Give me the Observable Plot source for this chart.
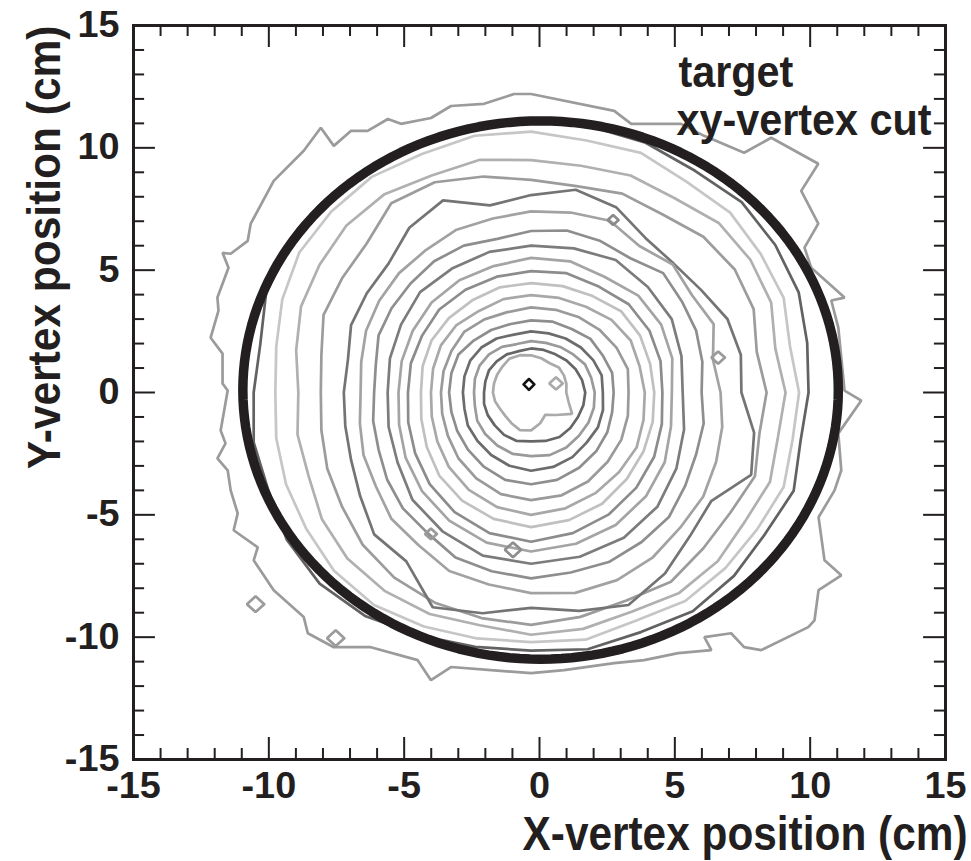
<!DOCTYPE html>
<html><head><meta charset="utf-8">
<script src="https://cdn.jsdelivr.net/npm/d3@7"></script>
<script src="https://cdn.jsdelivr.net/npm/@observablehq/plot@0.6"></script>
<style>
html,body{margin:0;padding:0;background:#fff;}
#chart svg{display:block;}
</style>
</head><body><div id="chart"></div>
<script>
// ---- data ----
// outermost contour, traced vertex by vertex (cm)
const ring01X = [-0.31,-0.94,-2.05,-3.27,-4.01,-5.12,-5.60,-6.35,-6.97,-7.60,-8.08,-8.71,-9.82,-10.67,-10.78,-11.41,-11.71,-11.49,-11.90,-11.86,-12.15,-11.71,-11.71,-11.52,-11.78,-11.60,-11.90,-11.52,-11.41,-11.15,-11.30,-10.41,-10.56,-9.82,-8.71,-8.56,-7.60,-6.23,-4.50,-4.01,-3.27,-1.79,-0.31,0.91,2.76,3.87,5.12,6.35,6.09,7.08,7.56,8.19,9.93,10.16,10.31,11.15,10.53,10.31,10.90,11.15,11.04,11.89,11.27,11.04,10.78,11.27,10.04,9.79,10.30,9.67,10.30,8.56,7.56,6.08,5.23,3.39,2.76,-0.31];
const ring01Y = [12.20,12.20,11.80,11.71,11.22,10.98,11.18,10.69,10.69,10.08,10.82,9.88,8.65,6.90,6.20,5.67,5.71,5.10,3.88,3.35,2.24,1.59,0.37,0.08,-1.55,-2.08,-2.69,-3.18,-4.00,-4.94,-5.63,-6.33,-6.86,-8.08,-9.18,-9.84,-10.41,-10.41,-10.94,-11.76,-11.22,-11.35,-11.47,-11.35,-11.06,-10.94,-10.65,-10.53,-10.00,-9.84,-10.41,-10.53,-9.59,-9.31,-8.08,-7.47,-6.86,-5.10,-4.00,-3.18,-1.67,-0.33,0.08,2.65,3.76,3.88,5.10,5.92,6.90,8.24,9.35,10.41,9.80,10.49,10.98,10.98,11.51,12.20];
// inner contours: radii (cm) around a common centre, counter-clockwise from +x, equal angle steps
const ringCenter = [-0.31, 0.0];
const ring02 = [10.25,10.4,10.7,10.85,11.0,10.9,11.05,11.1,11.15,11.0,11.05,10.9,10.95,10.75,10.6,10.2,10.25,10.45,10.5,10.85,11.05,11.0,10.75,10.6,10.55,10.7,10.6,10.75,10.6,10.4,10.5,10.15];
const ring03 = [9.9,9.75,10.1,10.2,10.4,10.35,10.6,10.5,10.66,10.7,10.55,10.6,10.45,10.3,9.95,9.6,9.45,9.6,9.8,10.0,10.3,10.45,10.35,10.25,10.2,10.3,10.1,10.25,10.15,10.05,10.1,9.85];
const ring04 = [9.4,9.2,9.6,9.75,9.8,9.55,9.6,9.45,9.5,9.7,9.6,9.75,9.65,9.4,9.2,8.85,8.6,8.8,8.9,9.3,9.6,9.75,9.8,9.7,9.9,9.85,9.7,9.85,9.75,9.5,9.55,9.3];
const ring05 = [8.7,8.5,8.9,9.05,9.0,8.75,8.8,8.6,8.69,9.0,9.3,9.3,8.6,8.4,8.3,7.9,7.77,7.9,8.15,8.4,8.8,9.1,9.3,9.4,9.5,9.35,9.2,9.3,9.0,8.85,8.95,8.6];
const ring06 = [7.77,7.9,7.85,7.55,7.45,7.6,8.2,8.45,8.07,7.8,8.5,8.1,7.45,7.3,7.2,6.9,6.92,7.0,7.2,7.6,8.2,8.3,9.5,9.2,8.8,9.1,9.4,8.9,8.3,8.0,8.8,8.4];
const ring07 = [7.0,6.85,7.3,7.15,7.4,7.2,7.6,7.5,7.4,7.25,7.2,7.0,6.9,6.75,6.6,6.4,6.3,6.45,6.7,6.9,7.3,7.5,7.9,8.0,8.2,8.35,8.3,8.1,7.8,7.65,7.4,7.2];
const ring08 = [6.3,6.45,6.6,6.7,6.9,6.6,6.7,6.75,6.6,6.4,6.5,6.45,6.3,6.2,6.1,5.85,5.8,5.95,6.1,6.4,6.7,6.9,7.3,7.45,7.6,7.5,7.5,7.35,7.2,6.85,6.6,6.5];
const ring09 = [5.6,5.75,6.0,6.1,6.25,6.1,6.0,5.95,5.85,5.8,5.55,5.4,5.3,5.45,5.7,6.2,6.55,6.9,7.0,6.95,6.85,6.6,6.2,5.85];
const ring10 = [5.2,5.4,5.55,5.6,5.45,5.55,5.5,5.35,5.3,5.2,5.05,4.95,4.9,5.05,5.35,5.7,6.05,6.35,6.5,6.4,6.25,6.0,5.7,5.35];
const ring11 = [4.85,4.95,5.05,5.1,5.0,5.05,4.96,4.9,4.85,4.8,4.65,4.6,4.55,4.7,4.95,5.3,5.65,5.95,6.1,5.95,5.75,5.5,5.25,5.0];
const ring12 = [4.55,4.55,4.65,4.7,4.55,4.5,4.47,4.45,4.35,4.3,4.25,4.15,4.07,4.2,4.45,4.8,5.1,5.35,5.5,5.4,5.25,5.0,4.8,4.65];
const ring13 = [4.2,4.15,4.25,4.2,4.05,4.0,3.98,3.95,3.85,3.9,3.85,3.75,3.7,3.8,4.0,4.3,4.6,4.85,5.0,4.9,4.75,4.6,4.5,4.3];
const ring14 = [3.6,3.7,3.65,3.6,3.55,3.5,3.48,3.4,3.45,3.5,3.4,3.35,3.33,3.4,3.55,3.8,4.05,4.3,4.4,4.35,4.2,4.0,3.85,3.7];
const ring15 = [3.05,3.1,3.05,3.1,3.0,3.0,2.95,2.9,2.95,3.0,3.1,3.05,3.03,3.05,3.15,3.3,3.5,3.7,3.75,3.7,3.55,3.4,3.25,3.1];
const ring16 = [2.65,2.7,2.65,2.6,2.55,2.5,2.5,2.45,2.55,2.6,2.6,2.55,2.52,2.55,2.7,2.8,2.95,3.1,3.2,3.15,3.05,2.9,2.85,2.75];
const ring17 = [2.35,2.3,2.3,2.2,2.15,2.1,2.1,2.05,2.15,2.2,2.2,2.15,2.11,2.15,2.3,2.4,2.5,2.6,2.6,2.65,2.6,2.5,2.45,2.4];
const ring18 = [2.0,1.95,1.9,1.85,1.8,1.8,1.8,1.75,1.8,1.8,1.8,1.75,1.74,1.8,1.85,1.9,2.0,2.05,2.0,2.05,2.1,2.05,2.0,2.0];
const ring19 = [1.3,1.35,1.4,1.45,1.38,1.45,1.52,1.58,1.6,1.5,1.45,1.42,1.41,1.38,1.33,1.35,1.45,1.59,1.55,1.3,1.05,1.3,1.75,1.43];
const ringColors = ["#9b9b9b","#626262","#c6c6c6","#b0b0b0","#9c9c9c","#747474","#a2a2a2","#8e8e8e","#7c7c7c","#a4a4a4","#8c8c8c","#c0c0c0","#a8a8a8","#9a9a9a","#8e8e8e","#6c6c6c","#9a9a9a","#666666","#aaaaaa"];
// small isolated contour islands: centre x, centre y (cm), half size (cm), colour
const islandX = [-10.49, -7.53, 2.72, 6.6, -4.01, -0.98, 0.61];
const islandY = [-8.65, -10.04, 7.05, 1.43, -5.78, -6.43, 0.37];
const islandSize = [0.32, 0.32, 0.2, 0.25, 0.22, 0.3, 0.25];
const islandColor = ["#9b9b9b", "#9b9b9b", "#8a8a8a", "#9a9a9a", "#9a9a9a", "#8e8e8e", "#aaaaaa"];
// peak bin marker (black diamond)
const peakX = [-0.39];
const peakY = [0.33];
// xy-vertex cut circle
const cutCenterX = 0.04, cutCenterY = 0.1, cutRadius = 11.0;
// axes and texts
const xTickLabels = [-15, -10, -5, 0, 5, 10, 15];
const yTickLabels = [-15, -10, -5, 0, 5, 10, 15];
const xTitle = "X-vertex position (cm)";
const yTitle = "Y-vertex position (cm)";
const legendLines = ["target", "xy-vertex cut"];

// ---- build mark tables ----
const contourRows = [];
ring01X.forEach((x, i) => contourRows.push({ring: "r0", x, y: ring01Y[i], c: ringColors[0]}));
const rings = [ring02, ring03, ring04, ring05, ring06, ring07, ring08, ring09, ring10,
               ring11, ring12, ring13, ring14, ring15, ring16, ring17, ring18, ring19];
rings.forEach((radii, j) => {
  const k = j + 1, n = radii.length;
  for (let i = 0; i <= n; i++) {
    const a = 2 * Math.PI * (i % n) / n, r = radii[i % n];
    contourRows.push({ring: "r" + k, x: ringCenter[0] + r * Math.cos(a), y: ringCenter[1] + r * Math.sin(a), c: ringColors[k]});
  }
});
islandX.forEach((cx, k) => {
  const s = islandSize[k];
  [[s,0],[0,s],[-s,0],[0,-s],[s,0]].forEach(([dx, dy]) =>
    contourRows.push({ring: "i" + k, x: cx + dx, y: islandY[k] + dy, c: islandColor[k]}));
});
const peakRows = [];
[[0.2,0],[0,0.22],[-0.2,0],[0,-0.22],[0.2,0]].forEach(([dx, dy]) =>
  peakRows.push({x: peakX[0] + dx, y: peakY[0] + dy}));
const cutRows = d3.range(0, 361, 2).map(deg => ({
  x: cutCenterX + cutRadius * Math.cos(deg * Math.PI / 180),
  y: cutCenterY + cutRadius * Math.sin(deg * Math.PI / 180)
}));
const minor = d3.range(-15, 16);
const isMajor = v => v % 5 === 0;
const tx = v => (isMajor(v) ? 0.81 : 0.41);   // tick length along x (cm)
const ty = v => (isMajor(v) ? 0.9 : 0.45);    // tick length along y (cm)

const font = "Liberation Sans, Arial, Helvetica, sans-serif";
const ink = "#231f20";

const plot = Plot.plot({
  width: 971,
  height: 861,
  marginLeft: 133,
  marginRight: 26,
  marginTop: 25,
  marginBottom: 102,
  x: {domain: [-15, 15], axis: null},
  y: {domain: [-15, 15], axis: null},
  style: {background: "#fff", fontFamily: font},
  marks: [
    Plot.line(contourRows, {x: "x", y: "y", z: "ring", stroke: "c", strokeWidth: 2.7, strokeLinejoin: "miter", curve: "linear"}),
    Plot.line(cutRows, {x: "x", y: "y", stroke: ink, strokeWidth: 9.5}),
    Plot.line(peakRows, {x: "x", y: "y", stroke: "#111", strokeWidth: 2.6}),
    Plot.frame({stroke: ink, strokeWidth: 3}),
    Plot.ruleX(minor, {x: d => d, y1: -15, y2: d => -15 + ty(d), stroke: ink, strokeWidth: 2}),
    Plot.ruleX(minor, {x: d => d, y1: 15, y2: d => 15 - ty(d), stroke: ink, strokeWidth: 2}),
    Plot.ruleY(minor, {y: d => d, x1: -15, x2: d => -15 + tx(d), stroke: ink, strokeWidth: 2}),
    Plot.ruleY(minor, {y: d => d, x1: 15, x2: d => 15 - tx(d), stroke: ink, strokeWidth: 2}),
    Plot.text(xTickLabels, {x: d => d, y: -15, dy: 27, text: d => String(d), fontSize: 36, fontWeight: "bold", fill: ink}),
    Plot.text(yTickLabels, {x: -15, y: d => d, dx: -14, text: d => String(d), textAnchor: "end", fontSize: 36, fontWeight: "bold", fill: ink}),
    Plot.text([xTitle], {x: 15, y: -15, dx: 22, dy: 75, text: d => d, textAnchor: "end", fontSize: 49, fontWeight: "bold", fill: ink}),
    Plot.text([yTitle], {x: -15, y: 15, dx: -88, text: d => d, textAnchor: "end", rotate: -90, fontSize: 42.5, fontWeight: "bold", fill: ink}),
    Plot.text([legendLines[0]], {x: 15, y: 15, dx: -267, dy: 47, text: d => d, textAnchor: "start", fontSize: 44, fontWeight: "bold", fill: ink}),
    Plot.text([legendLines[1]], {x: 15, y: 15, dx: -269, dy: 95, text: d => d, textAnchor: "start", fontSize: 44, fontWeight: "bold", fill: ink})
  ]
});
// lettering proportions as in the reference (titles narrower, tick labels slightly wider)
plot.querySelectorAll("text").forEach(t => {
  const tr = t.getAttribute("transform") || "";
  const s = t.textContent;
  let k = "";
  if (s === xTitle) k = " scale(0.865,1)";
  else if (s === legendLines[0] || s === legendLines[1]) k = " scale(0.94,1)";
  else if (s === yTitle) k = " scale(1,1.1)";
  else k = " scale(1.05,1)";
  t.setAttribute("transform", tr + k);
});
document.getElementById("chart").appendChild(plot);
</script>
</body></html>
